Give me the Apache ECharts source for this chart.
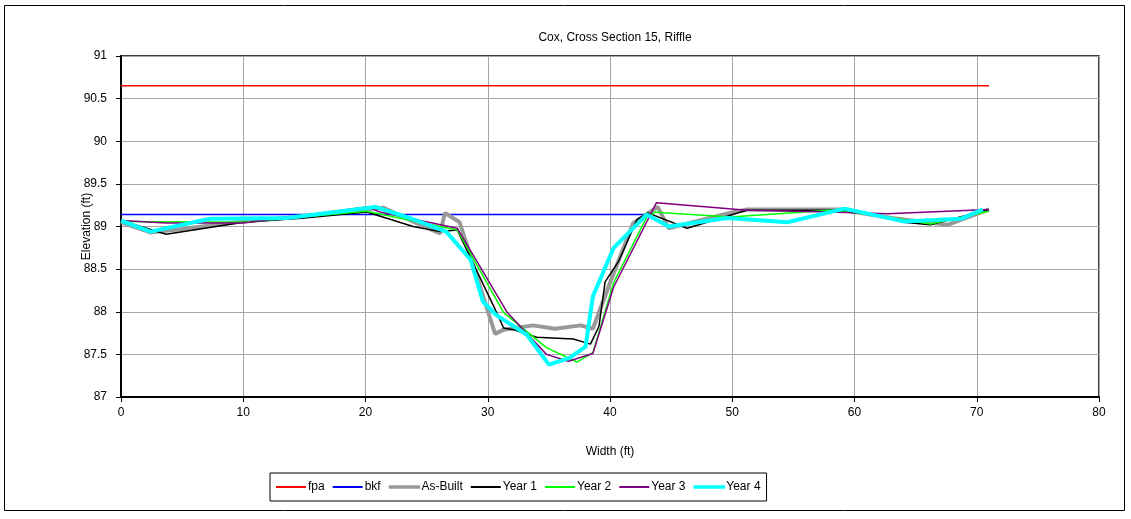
<!DOCTYPE html>
<html>
<head>
<meta charset="utf-8">
<script src="https://cdn.jsdelivr.net/npm/echarts@6/dist/echarts.min.js"></script>
<style>
html,body{margin:0;padding:0;background:#fff;}
#chart{width:1131px;height:519px;}
</style>
</head>
<body>
<div id="chart"></div>
<script>
const titleText = 'Cox, Cross Section 15, Riffle';
const xName = 'Width (ft)';
const yName = 'Elevation (ft)';

const fpa = [[0, 90.65], [71, 90.65]];
const bkf = [[0, 89.14], [43.1, 89.14]];
const asBuilt = [[0, 89.05], [2.4, 88.93], [5, 88.97], [10, 89.06], [15, 89.12], [20, 89.2], [21.5, 89.22], [24, 89.05], [26.1, 88.92], [26.5, 89.16], [27.7, 89.05], [30.6, 87.74], [31.3, 87.79], [33.7, 87.84], [35.5, 87.8], [37.6, 87.84], [38.6, 87.8], [40, 88.34], [41.9, 89.04], [43.9, 89.23], [44.8, 88.98], [49.8, 89.16], [51.2, 89.2], [58.8, 89.2], [63, 89.1], [67.6, 89.02], [71, 89.2]];
const year1 = [[0, 89.07], [3.7, 88.91], [10, 89.05], [15, 89.1], [20.1, 89.17], [23.9, 89.0], [26.1, 88.94], [27.5, 88.96], [30.5, 88.06], [31.3, 87.81], [32.1, 87.79], [34, 87.7], [37, 87.68], [38.4, 87.62], [39.1, 87.83], [39.6, 88.35], [40.7, 88.59], [42.2, 89.08], [43.1, 89.16], [46.3, 88.98], [51.2, 89.19], [60, 89.19], [64, 89.05], [66.2, 89.02], [68.1, 89.09], [71, 89.2]];
const year2 = [[0, 89.06], [10, 89.05], [20.1, 89.18], [27.5, 88.96], [31.3, 87.99], [34.8, 87.58], [37.3, 87.41], [38.6, 87.52], [40.3, 88.34], [43, 89.11], [43.7, 89.17], [44.4, 89.16], [49.8, 89.11], [58, 89.19], [62, 89.13], [66.2, 89.03], [71, 89.18]];
const year3 = [[0, 89.07], [3.7, 89.04], [10, 89.04], [20.1, 89.23], [21.2, 89.17], [27.5, 88.98], [31.6, 87.99], [34.8, 87.5], [36.6, 87.42], [38.6, 87.51], [40.3, 88.29], [43.8, 89.28], [51.2, 89.19], [58, 89.17], [62.7, 89.15], [71, 89.2]];
const year4 = [[0, 89.07], [2.4, 88.94], [7.3, 89.09], [13.6, 89.1], [20.8, 89.23], [23.6, 89.1], [26.6, 88.94], [28.6, 88.61], [29.6, 88.12], [30.7, 87.96], [33.2, 87.73], [35, 87.38], [36.7, 87.46], [38, 87.59], [38.6, 88.18], [40.3, 88.75], [43, 89.14], [44.8, 89.0], [49.6, 89.1], [54.5, 89.05], [59.2, 89.21], [64, 89.06], [68.7, 89.09], [70.5, 89.2]];

const seriesNames = ['fpa', 'bkf', 'As-Built', 'Year 1', 'Year 2', 'Year 3', 'Year 4'];
const seriesData = [fpa, bkf, asBuilt, year1, year2, year3, year4];
const seriesColors = ['#ff0000', '#0000ff', '#999999', '#000000', '#00ff00', '#800080', '#00ffff'];
const seriesWidths = [1.5, 1.5, 4, 1.5, 1.5, 1.5, 4];

const chart = echarts.init(document.getElementById('chart'));
const font = 'Liberation Sans, Arial, sans-serif';
chart.setOption({
  animation: false,
  backgroundColor: '#fff',
  title: {
    text: titleText,
    left: 610,
    textAlign: 'center',
    top: 27,
    textStyle: {fontFamily: font, fontSize: 12, fontWeight: 'normal', color: '#000'}
  },
  grid: {
    left: 121, right: 32, top: 56, bottom: 122,
    show: true, borderColor: '#000', borderWidth: 1.5, backgroundColor: 'transparent'
  },
  legend: {
    left: 270, top: 473,
    data: seriesNames.map((n, i) => ({
      name: n, icon: 'rect',
      itemStyle: {color: seriesColors[i], borderColor: seriesColors[i], borderWidth: seriesWidths[i] > 2 ? 1.5 : 0}
    })),
    itemWidth: 30, itemHeight: 2, itemGap: 8,
    padding: [8, 6, 8, 6],
    borderColor: '#000', borderWidth: 1,
    textStyle: {fontFamily: font, fontSize: 12, color: '#000', padding: [0, 0, 0, -3]}
  },
  xAxis: {
    type: 'value', min: 0, max: 80, interval: 10,
    name: xName, nameLocation: 'middle', nameGap: 49,
    nameTextStyle: {fontFamily: font, fontSize: 12, color: '#000'},
    axisLine: {lineStyle: {color: '#000', width: 2}},
    axisTick: {show: true, length: 5, lineStyle: {color: '#000'}},
    axisLabel: {fontFamily: font, fontSize: 12, color: '#000', margin: 10},
    splitLine: {show: true, lineStyle: {color: '#a6a6a6', width: 1}}
  },
  yAxis: {
    type: 'value', min: 87, max: 91, interval: 0.5,
    name: yName, nameLocation: 'middle', nameGap: 28, nameMoveOverlap: false,
    nameTextStyle: {fontFamily: font, fontSize: 12, color: '#000'},
    axisLine: {show: true, lineStyle: {color: '#000', width: 2}},
    axisTick: {show: true, length: 5, lineStyle: {color: '#000'}},
    axisLabel: {fontFamily: font, fontSize: 12, color: '#000', margin: 14},
    splitLine: {show: true, lineStyle: {color: '#a6a6a6', width: 1}}
  },
  graphic: [{
    type: 'rect', silent: true, z: -1,
    shape: {x: 4.5, y: 5.5, width: 1120, height: 505},
    style: {fill: 'none', stroke: '#000', lineWidth: 1}
  }],
  series: seriesNames.map((n, i) => ({
    name: n, type: 'line', data: seriesData[i],
    symbol: 'none', showSymbol: false,
    lineStyle: {color: seriesColors[i], width: seriesWidths[i]},
    itemStyle: {color: seriesColors[i]},
    z: 2 + i
  }))
});
</script>
</body>
</html>
